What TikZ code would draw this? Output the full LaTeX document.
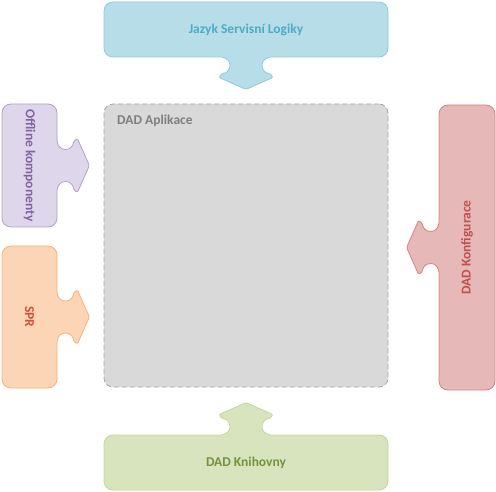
\documentclass[tikz,border=0pt]{standalone}
\usepackage{fontspec}
\setmainfont{Carlito}
\usepackage{graphicx}

\definecolor{bluefill}{HTML}{B7DEE8}
\definecolor{blueline}{HTML}{8CCBDB}
\definecolor{bluetext}{HTML}{4BACC6}
\definecolor{greyfill}{HTML}{D9D9D9}
\definecolor{greyline}{HTML}{A6A6A6}
\definecolor{greytext}{HTML}{7F7F7F}
\definecolor{purplefill}{HTML}{DED6EA}
\definecolor{purpleline}{HTML}{B3A2C7}
\definecolor{purpletext}{HTML}{8064A2}
\definecolor{orangefill}{HTML}{FBD5B5}
\definecolor{orangeline}{HTML}{F9B27A}
\definecolor{orangetext}{HTML}{D0503C}
\definecolor{redfill}{HTML}{E6B9B8}
\definecolor{redline}{HTML}{D7827F}
\definecolor{redtext}{HTML}{C0504D}
\definecolor{greenfill}{HTML}{D7E4BD}
\definecolor{greenline}{HTML}{C3D69B}
\definecolor{greentext}{HTML}{76923C}

% arrow stub of a callout, pointing down before rotation
\newcommand{\calloutstub}[4]{%
  \begin{scope}[shift={(#1)}, rotate=#2]
    \fill[#3] (-24pt,1.5pt) -- (-24pt,0pt) arc[start angle=90, end angle=-90, radius=8pt]
      -- (-27pt,-20pt) -- (0pt,-32pt) -- (27pt,-20pt) -- (24pt,-16pt)
      arc[start angle=-90, end angle=-270, radius=8pt] -- (24pt,1.5pt) -- cycle;
    \draw[#4, line width=0.8pt, rounded corners=1.5pt] (-24pt,0pt) arc[start angle=90, end angle=-90, radius=8pt]
      -- (-27pt,-20pt) -- (0pt,-32pt) -- (27pt,-20pt) -- (24pt,-16pt)
      arc[start angle=-90, end angle=-270, radius=8pt];
  \end{scope}}

\tikzset{
  labelfont/.style={font=\bfseries\fontsize{13.5}{16}\selectfont},
  callbox/.style={rounded corners=9pt, line width=0.8pt, inner sep=0pt, labelfont},
}

\begin{document}
\begin{tikzpicture}[x=1pt, y=-1pt]
\useasboundingbox (0,0) rectangle (496,492);

\node[callbox, fill=greyfill, draw=greyline, dash pattern=on 5pt off 3pt, minimum width=284pt, minimum height=283pt] (app) at (246,245.5) {};
\node[labelfont, text=greytext, inner sep=0pt, anchor=north west] (apptitle) at (117,115) {DAD Aplikace};

\node[callbox, fill=bluefill, draw=blueline, text=bluetext, minimum width=284pt, minimum height=55pt] (jsl) at (246,29.5) {Jazyk Servisní Logiky};
\node[callbox, fill=purplefill, draw=purpleline, text=purpletext, minimum width=55pt, minimum height=123pt] (offline) at (29.5,165.5) {\rotatebox{-90}{Offline komponenty}};
\node[callbox, fill=orangefill, draw=orangeline, text=orangetext, minimum width=55pt, minimum height=142pt] (spr) at (29.5,317) {\rotatebox{-90}{SPR}};
\node[callbox, fill=redfill, draw=redline, text=redtext, minimum width=56pt, minimum height=285pt] (konf) at (467,247.5) {\rotatebox{90}{DAD Konfigurace}};
\node[callbox, fill=greenfill, draw=greenline, text=greentext, minimum width=284pt, minimum height=55pt] (knih) at (246,462.5) {DAD Knihovny};

\calloutstub{jsl.south}{0}{bluefill}{blueline}
\calloutstub{offline.east}{90}{purplefill}{purpleline}
\calloutstub{spr.east}{90}{orangefill}{orangeline}
\calloutstub{konf.west}{-90}{redfill}{redline}
\calloutstub{knih.north}{180}{greenfill}{greenline}

\end{tikzpicture}
\end{document}
